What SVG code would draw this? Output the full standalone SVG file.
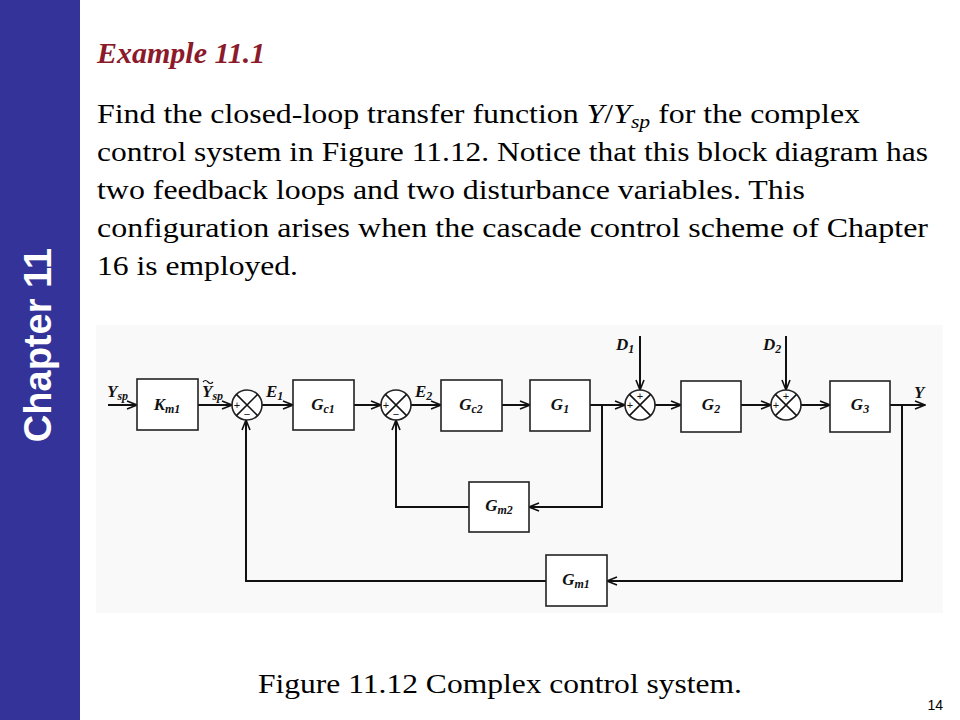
<svg xmlns="http://www.w3.org/2000/svg" width="960" height="720" viewBox="0 0 960 720">
<defs>
<marker id="ar" viewBox="0 0 12 10" refX="11" refY="5" markerWidth="12" markerHeight="10" markerUnits="userSpaceOnUse" orient="auto"><path d="M1,1 L11,5 L1,9" fill="none" stroke="#111" stroke-width="1.6"/></marker>
</defs>
<style>
.b{fill:#fff;stroke:#222;stroke-width:1.6}
.l{fill:none;stroke:#111;stroke-width:2}
.t{font-family:"Liberation Serif",serif;font-style:italic;font-weight:bold;font-size:17px;fill:#111}
.s{font-size:12px}
.p{font-family:"Liberation Sans",sans-serif;font-size:11px;fill:#111}
.x{stroke:#111;stroke-width:1.5}
</style>
<rect width="960" height="720" fill="#fff"/>
<rect x="0" y="0" width="80" height="720" fill="#333399"/>
<text transform="translate(51,345) rotate(-90)" text-anchor="middle" font-family="Liberation Sans,sans-serif" font-weight="bold" font-size="38" fill="#fff">Chapter 11</text>
<text x="97" y="63" font-family="Liberation Serif,serif" font-style="italic" font-weight="bold" font-size="30" fill="#8b1a2b">Example 11.1</text>
<g font-family="Liberation Serif,serif" font-size="28" fill="#000">
<text x="97" y="123" textLength="763" lengthAdjust="spacingAndGlyphs">Find the closed-loop transfer function <tspan font-style="italic">Y</tspan>/<tspan font-style="italic">Y</tspan><tspan font-style="italic" font-size="19" dy="5">sp</tspan><tspan dy="-5"> for the complex</tspan></text>
<text x="97" y="161" textLength="831" lengthAdjust="spacingAndGlyphs">control system in Figure 11.12. Notice that this block diagram has</text>
<text x="97" y="199" textLength="708" lengthAdjust="spacingAndGlyphs">two feedback loops and two disturbance variables. This</text>
<text x="97" y="237" textLength="831" lengthAdjust="spacingAndGlyphs">configuration arises when the cascade control scheme of Chapter</text>
<text x="97" y="275" textLength="201" lengthAdjust="spacingAndGlyphs">16 is employed.</text>
<text x="258" y="693" textLength="484" lengthAdjust="spacingAndGlyphs">Figure 11.12 Complex control system.</text>
</g>
<text x="943" y="710" text-anchor="end" font-family="Liberation Sans,sans-serif" font-size="14">14</text>
<rect x="96" y="325" width="847" height="288" fill="#f9f9f9"/>
<g id="connectors">
<path class="l" d="M108,405 H137" marker-end="url(#ar)"/>
<path class="l" d="M198,405 H232" marker-end="url(#ar)"/>
<path class="l" d="M262,405 H293" marker-end="url(#ar)"/>
<path class="l" d="M354,405 H381" marker-end="url(#ar)"/>
<path class="l" d="M411,405 H441" marker-end="url(#ar)"/>
<path class="l" d="M502,405 H530" marker-end="url(#ar)"/>
<path class="l" d="M590,405 H625" marker-end="url(#ar)"/>
<path class="l" d="M655,405 H681" marker-end="url(#ar)"/>
<path class="l" d="M741,405 H771" marker-end="url(#ar)"/>
<path class="l" d="M801,405 H830" marker-end="url(#ar)"/>
<path class="l" d="M890,405 H925" marker-end="url(#ar)"/>
<path class="l" d="M640,336 V390" marker-end="url(#ar)"/>
<path class="l" d="M786,336 V390" marker-end="url(#ar)"/>
<path class="l" d="M602,405 V507 H529" marker-end="url(#ar)"/>
<path class="l" d="M469,507 H396 V420" marker-end="url(#ar)"/>
<path class="l" d="M902,405 V581 H607" marker-end="url(#ar)"/>
<path class="l" d="M546,581 H246 V420" marker-end="url(#ar)"/>
</g>
<g id="Km1"><rect class="b" x="137" y="379" width="61" height="51"/><text class="t" x="167" y="410" text-anchor="middle">K<tspan class="s" dy="3">m1</tspan></text></g>
<g id="Gc1"><rect class="b" x="293" y="380" width="61" height="50"/><text class="t" x="323" y="410" text-anchor="middle">G<tspan class="s" dy="3">c1</tspan></text></g>
<g id="Gc2"><rect class="b" x="441" y="380" width="61" height="51"/><text class="t" x="471" y="410" text-anchor="middle">G<tspan class="s" dy="3">c2</tspan></text></g>
<g id="G1"><rect class="b" x="530" y="380" width="60" height="51"/><text class="t" x="560" y="410" text-anchor="middle">G<tspan class="s" dy="3">1</tspan></text></g>
<g id="G2"><rect class="b" x="681" y="381" width="60" height="51"/><text class="t" x="711" y="410" text-anchor="middle">G<tspan class="s" dy="3">2</tspan></text></g>
<g id="G3"><rect class="b" x="830" y="381" width="60" height="51"/><text class="t" x="860" y="410" text-anchor="middle">G<tspan class="s" dy="3">3</tspan></text></g>
<g id="Gm2"><rect class="b" x="469" y="482" width="60" height="50"/><text class="t" x="499" y="511" text-anchor="middle">G<tspan class="s" dy="3">m2</tspan></text></g>
<g id="Gm1"><rect class="b" x="546" y="555" width="61" height="51"/><text class="t" x="576" y="585" text-anchor="middle">G<tspan class="s" dy="3">m1</tspan></text></g>
<g id="S1"><circle class="b" cx="247" cy="405" r="15"/><path class="x" d="M236.4,394.4 L257.6,415.6 M257.6,394.4 L236.4,415.6"/><text class="p" x="237" y="409" text-anchor="middle">+</text><text class="p" x="247" y="418" text-anchor="middle">−</text></g>
<g id="S2"><circle class="b" cx="396" cy="405" r="15"/><path class="x" d="M385.4,394.4 L406.6,415.6 M406.6,394.4 L385.4,415.6"/><text class="p" x="386" y="409" text-anchor="middle">+</text><text class="p" x="396" y="418" text-anchor="middle">−</text></g>
<g id="S3"><circle class="b" cx="640" cy="405" r="15"/><path class="x" d="M629.4,394.4 L650.6,415.6 M650.6,394.4 L629.4,415.6"/><text class="p" x="630" y="409" text-anchor="middle">+</text><text class="p" x="640" y="400" text-anchor="middle">+</text></g>
<g id="S4"><circle class="b" cx="786" cy="405" r="15"/><path class="x" d="M775.4,394.4 L796.6,415.6 M796.6,394.4 L775.4,415.6"/><text class="p" x="776" y="409" text-anchor="middle">+</text><text class="p" x="786" y="400" text-anchor="middle">+</text></g>
<g id="labels">
<text class="t" x="107" y="397">Y<tspan class="s" dy="3">sp</tspan></text>
<text class="t" x="202" y="397">Y<tspan class="s" dy="3">sp</tspan></text>
<path d="M203,382 q2.5,-3 5,0 t5,0" fill="none" stroke="#111" stroke-width="1.2"/>
<text class="t" x="266" y="397">E<tspan class="s" dy="3">1</tspan></text>
<text class="t" x="415" y="397">E<tspan class="s" dy="3">2</tspan></text>
<text class="t" x="616" y="350">D<tspan class="s" dy="3">1</tspan></text>
<text class="t" x="763" y="350">D<tspan class="s" dy="3">2</tspan></text>
<text class="t" x="914" y="398">Y</text>
</g>
</svg>
